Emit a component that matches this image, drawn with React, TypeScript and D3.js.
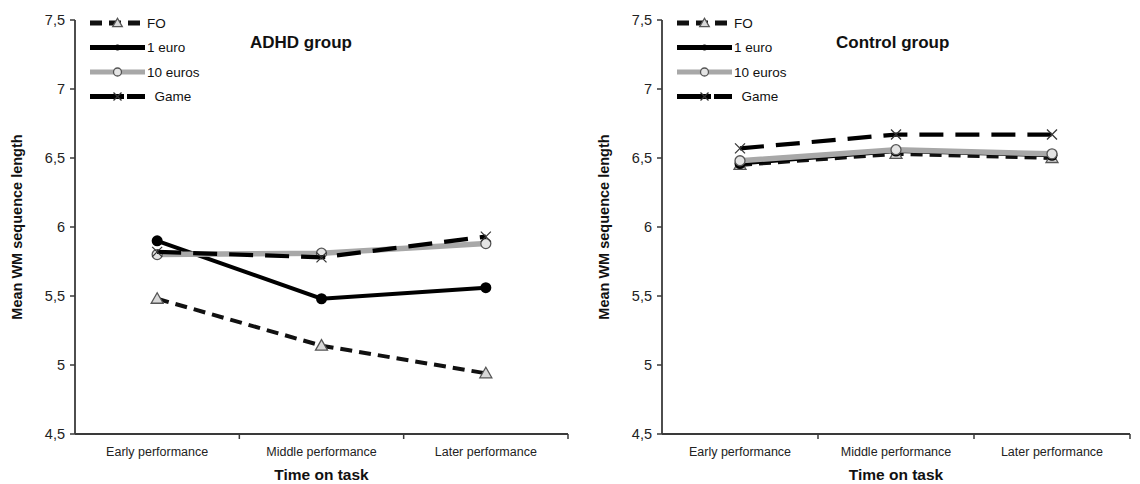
import React from 'react';
import * as d3 from 'd3';

const categories = ['Early performance', 'Middle performance', 'Later performance'];
const yTicks = [4.5, 5, 5.5, 6, 6.5, 7, 7.5];
const seriesNames = ['FO', '1 euro', '10 euros', 'Game'];

// ADHD group
const adhdFO = [5.48, 5.14, 4.94];
const adhdOneEuro = [5.9, 5.48, 5.56];
const adhdTenEuros = [5.8, 5.81, 5.88];
const adhdGame = [5.82, 5.78, 5.93];

// Control group
const ctrlFO = [6.45, 6.53, 6.5];
const ctrlOneEuro = [6.46, 6.55, 6.52];
const ctrlTenEuros = [6.48, 6.56, 6.53];
const ctrlGame = [6.57, 6.67, 6.67];

const W = 1140;
const H = 484;
const FONT = '"Liberation Sans", Arial, sans-serif';

const styles = {
  FO: { stroke: '#111', width: 4, dash: '12,7', marker: 'triangle' },
  '1 euro': { stroke: '#000', width: 4, dash: null, marker: 'dot' },
  '10 euros': { stroke: '#a8a8a8', width: 5.5, dash: null, marker: 'circle' },
  Game: { stroke: '#000', width: 4.2, dash: '24,12', marker: 'cross' },
};

function Marker({ type, x, y, big }: { type: string; x: number; y: number; big: boolean }) {
  const s = big ? 1 : 0.8;
  if (type === 'triangle') {
    const r = 6 * s;
    const p = `${x},${y - r} ${x + r},${y + r * 0.75} ${x - r},${y + r * 0.75}`;
    return <polygon points={p} fill="#d8d8d8" stroke="#555" strokeWidth={1.3} />;
  }
  if (type === 'dot') {
    return <circle cx={x} cy={y} r={big ? 5.5 : 3} fill="#000" />;
  }
  if (type === 'circle') {
    return <circle cx={x} cy={y} r={5 * s} fill="#e4e4e4" stroke="#555" strokeWidth={1.3} />;
  }
  const r = 5 * s;
  return (
    <g stroke="#333" strokeWidth={1.2}>
      <line x1={x - r} y1={y - r} x2={x + r} y2={y + r} />
      <line x1={x - r} y1={y + r} x2={x + r} y2={y - r} />
    </g>
  );
}

function Panel({ x0, x1, title, titleX, data, yLabelX }: any) {
  const top = 20;
  const bottom = 434;
  const y = d3.scaleLinear().domain([4.5, 7.5]).range([bottom, top]);
  const band = d3.scaleBand().domain(categories).range([x0, x1]);
  const xp = d3.scalePoint().domain(categories).range([x0, x1]).padding(0.5);
  const line = d3.line<number>().x((_, i) => xp(categories[i]) as number).y(d => y(d));
  const axisColor = '#3a3a3a';

  return (
    <g fontFamily={FONT}>
      {/* y axis */}
      <line x1={x0} x2={x0} y1={top} y2={bottom} stroke={axisColor} strokeWidth={1.8} />
      {yTicks.map(t => (
        <g key={t}>
          <line x1={x0 - 5} x2={x0} y1={y(t)} y2={y(t)} stroke={axisColor} strokeWidth={1.5} />
          <text x={x0 - 10} y={y(t)} dy="0.35em" textAnchor="end" fontSize={14.5} fill="#222">
            {d3.format('')(t).replace('.', ',')}
          </text>
        </g>
      ))}
      {/* x axis */}
      <line x1={x0} x2={x1} y1={bottom} y2={bottom} stroke={axisColor} strokeWidth={1.8} />
      {categories.map((c, i) => (
        <g key={c}>
          <line x1={(band(c) as number) + band.bandwidth()} x2={(band(c) as number) + band.bandwidth()}
            y1={bottom} y2={bottom + 5} stroke={axisColor} strokeWidth={1.5} />
          <text x={xp(c)} y={bottom + 22} textAnchor="middle" fontSize={12.5} fill="#222">{c}</text>
        </g>
      ))}
      <text x={(x0 + x1) / 2} y={bottom + 46} textAnchor="middle" fontSize={15.5} fontWeight="bold" fill="#111">
        Time on task
      </text>
      <text transform={`translate(${yLabelX},${(top + bottom) / 2}) rotate(-90)`} textAnchor="middle"
        fontSize={14.5} fontWeight="bold" fill="#111">
        Mean WM sequence length
      </text>
      <text x={titleX} y={48} fontSize={17} fontWeight="bold" fill="#111">{title}</text>

      {/* series */}
      {seriesNames.map((name, k) => {
        const st = (styles as any)[name];
        return (
          <g key={name}>
            <path d={line(data[k]) as string} fill="none" stroke={st.stroke} strokeWidth={st.width}
              strokeDasharray={st.dash || undefined} />
            {data[k].map((v: number, i: number) => (
              <Marker key={i} type={st.marker} x={xp(categories[i]) as number} y={y(v)} big={true} />
            ))}
          </g>
        );
      })}

      {/* legend */}
      {seriesNames.map((name, k) => {
        const st = (styles as any)[name];
        const ly = 23 + k * 24.5;
        const lx0 = x0 + 15;
        const lx1 = x0 + 70;
        return (
          <g key={name}>
            <line x1={lx0} x2={lx1} y1={ly} y2={ly} stroke={st.stroke} strokeWidth={5}
              strokeDasharray={name === 'FO' ? '12,7' : name === 'Game' ? '34,3' : undefined} />
            <Marker type={st.marker} x={(lx0 + lx1) / 2} y={ly} big={false} />
            <text x={lx1 + 2} y={ly} dy="0.35em" fontSize={13.5} fill="#111">
              {name === 'Game' ? '\u00a0\u00a0Game' : name}
            </text>
          </g>
        );
      })}
    </g>
  );
}

export default function App() {
  return (
    <div>
      <style>{'body{margin:0}'}</style>
      <svg width={W} height={H} style={{ display: 'block', background: '#fff' }}>
        <Panel x0={75} x1={568} title="ADHD group" titleX={250} yLabelX={22}
          data={[adhdFO, adhdOneEuro, adhdTenEuros, adhdGame]} />
        <Panel x0={662} x1={1130} title="Control group" titleX={836} yLabelX={609}
          data={[ctrlFO, ctrlOneEuro, ctrlTenEuros, ctrlGame]} />
      </svg>
    </div>
  );
}
